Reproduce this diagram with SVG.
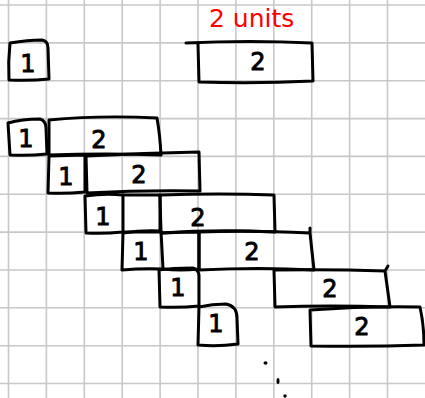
<svg xmlns="http://www.w3.org/2000/svg" width="425" height="398" viewBox="0 0 425 398">
<style>
.grid line{stroke:#c8c8c8;stroke-width:1.6}
.box{fill:none;stroke:#000;stroke-width:3;stroke-linejoin:round;stroke-linecap:round}
.num{font-family:"DejaVu Sans",sans-serif;font-size:24px;fill:#000;stroke:#000;stroke-width:0.9;text-anchor:middle}
.lbl{font-family:"DejaVu Sans",sans-serif;font-size:25px;fill:#ff0000;text-anchor:start}
</style>
<rect width="425" height="398" fill="#fff"/>
<g class="grid">
<line x1="8.5" y1="0" x2="8.5" y2="398"/>
<line x1="46.4" y1="0" x2="46.4" y2="398"/>
<line x1="84.3" y1="0" x2="84.3" y2="398"/>
<line x1="122.2" y1="0" x2="122.2" y2="398"/>
<line x1="160.1" y1="0" x2="160.1" y2="398"/>
<line x1="198" y1="0" x2="198" y2="398"/>
<line x1="235.9" y1="0" x2="235.9" y2="398"/>
<line x1="273.8" y1="0" x2="273.8" y2="398"/>
<line x1="311.7" y1="0" x2="311.7" y2="398"/>
<line x1="349.6" y1="0" x2="349.6" y2="398"/>
<line x1="387.5" y1="0" x2="387.5" y2="398"/>
<line x1="0" y1="5" x2="425" y2="5"/>
<line x1="0" y1="42.9" x2="425" y2="42.9"/>
<line x1="0" y1="80.7" x2="425" y2="80.7"/>
<line x1="0" y1="118.6" x2="425" y2="118.6"/>
<line x1="0" y1="156.4" x2="425" y2="156.4"/>
<line x1="0" y1="194.3" x2="425" y2="194.3"/>
<line x1="0" y1="232.1" x2="425" y2="232.1"/>
<line x1="0" y1="270" x2="425" y2="270"/>
<line x1="0" y1="307.8" x2="425" y2="307.8"/>
<line x1="0" y1="345.7" x2="425" y2="345.7"/>
<line x1="0" y1="383.5" x2="425" y2="383.5"/>
</g>
<text class="lbl" x="209" y="27">2 units</text>
<g id="top-1">
<path class="box" d="M10 43 Q28 40 42 40 Q48 41 48 48 L49 79 Q30 81 9 80 Q8 62 10 43 Z"/>
<text class="num" x="28" y="72">1</text>
</g>
<g id="top-2">
<path class="box" d="M186 43 Q250 40 312 43 L313 81 Q255 84 199 82 L198 44"/>
<text class="num" x="258" y="70">2</text>
</g>
<g id="r1-1">
<path class="box" d="M8 123 Q22 119 40 119 Q46 121 46 128 L47 154 Q28 156 10 155 Z"/>
<text class="num" x="26" y="147">1</text>
</g>
<g id="r1-2">
<path class="box" d="M49 120 Q100 115 157 118 Q160 135 161 155 Q105 153 49 155 Z"/>
<text class="num" x="99" y="148">2</text>
</g>
<g id="r2-1">
<path class="box" d="M49 156 L85 155 L85 192 Q65 194 48 193 Z"/>
<text class="num" x="66" y="185">1</text>
</g>
<g id="r2-2">
<path class="box" d="M86 156 Q145 153 199 152 L200 191 Q143 190 87 193 Z"/>
<text class="num" x="139" y="183">2</text>
</g>
<g id="r3-1">
<path class="box" d="M85 196 Q105 193 123 195 L123 232 Q103 234 86 233 Z"/>
<text class="num" x="103" y="225">1</text>
</g>
<g id="r3-empty">
<path class="box" d="M123 195 L160 195 L160 232 L123 232"/>
</g>
<g id="r3-2">
<path class="box" d="M160 195 Q220 193 274 195 L275 232 Q218 229 161 233 Z"/>
<text class="num" x="198" y="226">2</text>
</g>
<g id="r4-1">
<path class="box" d="M123 233 Q142 230 161 231 L163 269 Q143 268 122 270 Z"/>
<text class="num" x="141" y="260">1</text>
</g>
<g id="r4-empty">
<path class="box" d="M163 233 Q182 232 199 232 L199 269 Q180 271 163 269"/>
</g>
<g id="r4-2">
<path class="box" d="M199 232 Q250 230 310 233 L314 270 Q260 267 199 270 L199 232 M310 233 L310 228"/>
<text class="num" x="252" y="260">2</text>
</g>
<g id="r5-1">
<path class="box" d="M159 270 Q172 268 193 268 Q199 270 199 276 L199 306 Q180 308 160 307 Z"/>
<text class="num" x="178" y="296">1</text>
</g>
<g id="r5-2">
<path class="box" d="M274 270 Q330 269 385 271 L390 307 Q330 305 275 307 L274 270 M385 271 L388 266"/>
<text class="num" x="330" y="297">2</text>
</g>
<g id="r6-1">
<path class="box" d="M199 307 Q212 304 226 304 Q237 306 237 318 L238 344 Q217 347 198 345 Z"/>
<text class="num" x="216" y="332">1</text>
</g>
<g id="r6-2">
<path class="box" d="M310 310 Q365 306 420 307 Q424 325 424 345 Q368 347 311 346 Z"/>
<text class="num" x="362" y="335">2</text>
</g>
<g id="dots" fill="#000">
<ellipse cx="265.5" cy="363" rx="2" ry="1.7"/>
<ellipse cx="278" cy="381" rx="1.5" ry="3"/>
<ellipse cx="285" cy="396" rx="1.7" ry="1.7"/>
</g>
</svg>
